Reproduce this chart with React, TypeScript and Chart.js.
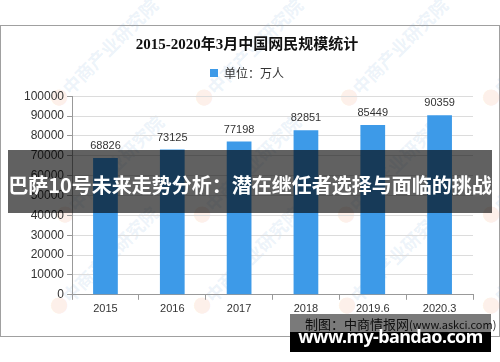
import React, { useEffect, useRef } from "react";
import { Chart, registerables } from "chart.js";

Chart.register(...registerables);

const categories = ["2015", "2016", "2017", "2018", "2019.6", "2020.3"];
const netizens = [68826, 73125, 77198, 82851, 85449, 90359];
const yTicks = [0, 10000, 20000, 30000, 40000, 50000, 60000, 70000, 80000, 90000, 100000];
const titleText = "2015-2020年3月中国网民规模统计";
const legendText = "单位：万人";
const bannerText = "巴萨10号未来走势分析：潜在继任者选择与面临的挑战";
const sourceText = "制图：中商情报网";
const sourceUrl = "(www.askci.com)";
const siteText = "www.my-bandao.com";

const BAR = "#3d9ae8";

const valueLabels = {
  id: "valueLabels",
  afterDatasetsDraw(chart: any) {
    const ctx = chart.ctx;
    const meta = chart.getDatasetMeta(0);
    ctx.save();
    ctx.font = "11px 'Liberation Sans', Arial, sans-serif";
    ctx.fillStyle = "#333";
    ctx.textAlign = "center";
    ctx.textBaseline = "middle";
    meta.data.forEach((bar: any, i: number) => {
      ctx.fillText(String(netizens[i]), bar.x, bar.y - 12);
    });
    ctx.restore();
  },
};

export default function App() {
  const ref = useRef<HTMLCanvasElement>(null);
  useEffect(() => {
    if (!ref.current) return;
    const chart = new Chart(ref.current, {
      type: "bar",
      data: {
        labels: categories,
        datasets: [
          {
            label: legendText,
            data: netizens,
            backgroundColor: BAR,
            borderWidth: 0,
            categoryPercentage: 1,
            barPercentage: 0.37,
          },
        ],
      },
      options: {
        responsive: false,
        animation: false,
        layout: { padding: { top: 26, left: 21, right: 27, bottom: 43 } },
        plugins: {
          title: {
            display: true,
            text: titleText,
            color: "#111",
            font: { size: 15, weight: "bold", family: "'Liberation Serif', 'Noto Sans CJK SC', serif" },
            padding: { top: 10, bottom: 3 },
          },
          subtitle: {
            display: true,
            text: " ",
            position: "top",
            weight: 500,
            font: { size: 1 },
            padding: { top: 0, bottom: 6 },
          } as any,
          legend: {
            display: true,
            position: "top",
            labels: {
              boxWidth: 8,
              boxHeight: 8,
              color: "#333",
              font: { size: 12, family: "'Noto Sans CJK SC', sans-serif" },
              padding: 10,
            },
          },
          tooltip: { enabled: false },
        },
        scales: {
          x: {
            grid: {
              display: true,
              drawOnChartArea: false,
              drawTicks: true,
              tickLength: 5,
              color: "#999",
              offset: true,
            },
            border: { color: "#999" },
            ticks: {
              color: "#333",
              font: { size: 11, family: "'Liberation Sans', Arial, sans-serif" },
              padding: 3,
            },
          },
          y: {
            min: 0,
            max: 100000,
            afterBuildTicks(scale: any) {
              scale.ticks = yTicks.map((v) => ({ value: v }));
            },
            grid: {
              color: "#dcdcdc",
              tickColor: "#999",
              tickLength: 5,
            },
            border: { color: "#999" },
            ticks: {
              color: "#333",
              font: { size: 12, family: "'Liberation Sans', Arial, sans-serif" },
              padding: 3,
              callback: (v: any) => String(v),
            },
          },
        },
      },
      plugins: [valueLabels],
    });
    return () => chart.destroy();
  }, []);

  const wmLogos: [number, number][] = [
    [60, 100], [205, 100], [350, 100], [492, 100],
    [66, 217], [203, 217], [347, 217], [492, 217],
    [60, 308], [203, 308], [348, 308], [492, 308],
  ];

  return (
    <div style={{ position: "fixed", left: 0, top: 0, width: 500, height: 362, background: "#fff", overflow: "hidden" }}>
      <div style={{ position: "absolute", left: 0, top: 25, width: 498, height: 310, border: "1px solid #a0a0a0" }} />
      {wmLogos.map(([x, y], i) => (
        <div
          key={i}
          style={{
            position: "absolute",
            left: x - 8,
            top: y - 10,
            transformOrigin: "0 50%",
            transform: "rotate(-45deg)",
            whiteSpace: "nowrap",
            color: "rgba(120,170,220,0.15)",
            font: "bold 18px 'Noto Sans CJK SC', sans-serif",
          }}
        >
          <span style={{ color: "rgba(240,140,90,0.15)" }}>●</span>中商产业研究院
        </div>
      ))}
      <canvas ref={ref} width={500} height={362} style={{ position: "absolute", left: 0, top: 0, width: 500, height: 362 }} />
      <div
        style={{
          position: "absolute",
          left: 305,
          top: 315,
          whiteSpace: "nowrap",
          color: "#222",
          font: "13px 'Noto Sans CJK SC', sans-serif",
          lineHeight: "18px",
        }}
      >
        {sourceText}
        <span style={{ fontSize: 11 }}>{sourceUrl}</span>
      </div>
      <div
        style={{
          position: "absolute",
          left: 8,
          top: 150,
          width: 484,
          height: 63,
          background: "rgba(0,0,0,0.62)",
          color: "#fff",
          display: "flex",
          alignItems: "center",
          justifyContent: "center",
          font: "bold 20px 'Noto Sans CJK SC', sans-serif",
          whiteSpace: "nowrap",
          paddingTop: 6,
          boxSizing: "border-box",
        }}
      >
        {bannerText}
      </div>
      <div style={{ position: "absolute", left: 290, top: 314, width: 201, height: 18, background: "rgba(0,0,0,0.52)" }} />
      <div
        style={{
          position: "absolute",
          left: 290,
          top: 332,
          width: 201,
          height: 20,
          background: "#000",
        }}
      />
      <div
        style={{
          position: "absolute",
          left: 290,
          top: 323,
          width: 201,
          textAlign: "center",
          color: "#fff",
          font: "bold 18px 'Noto Sans', sans-serif",
          letterSpacing: "-0.6px",
          lineHeight: "26px",
          whiteSpace: "nowrap",
        }}
      >
        {siteText}
      </div>
    </div>
  );
}
